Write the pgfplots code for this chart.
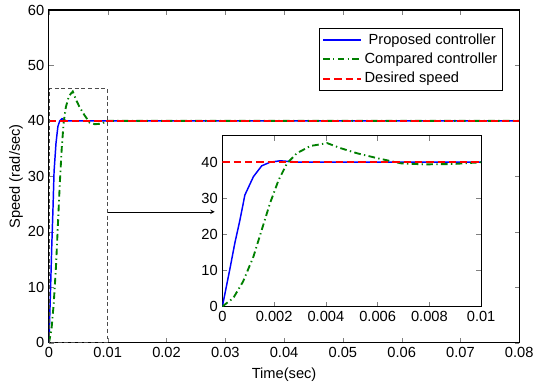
\documentclass[border=0pt]{standalone}
\usepackage{fontspec}
\setmainfont{Liberation Sans}
\usepackage{pgfplots}
\pgfplotsset{compat=1.18}
\definecolor{mgreen}{rgb}{0,0.5,0}
\begin{document}
\begin{tikzpicture}
\useasboundingbox (-36.75pt,-31.5pt) rectangle (364.1pt,257.25pt);
\pgfplotsset{
  every axis/.append style={
    /pgf/number format/assume math mode=true,
    scaled x ticks=false, scaled y ticks=false,
    tick label style={font=\fontsize{11}{13}\selectfont},
    label style={font=\fontsize{11}{13}\selectfont},
    axis line style={line width=0.8pt},
    major tick length=3.5pt,
    tick align=inside,
  },
}
\begin{axis}[name=main, at={(0pt,0pt)}, anchor=south west,
  scale only axis, width=353pt, height=249.75pt,
  xmin=0, xmax=0.08, ymin=0, ymax=60,
  xtick={0,0.01,0.02,0.03,0.04,0.05,0.06,0.07,0.08},
  xticklabels={0,0.01,0.02,0.03,0.04,0.05,0.06,0.07,0.08},
  ytick={0,10,20,30,40,50,60},
  xlabel={Time(sec)}, ylabel={Speed (rad/sec)},
  xlabel style={yshift=-1pt}, ylabel style={yshift=-3pt},
  legend cell align=left,
  legend style={at={(rel axis cs:0.966,0.946)}, anchor=north east,
    font=\fontsize{11}{12}\selectfont, line width=0.8pt,
    inner sep=2pt, row sep=1pt},
  legend image code/.code={\draw[#1] (0cm,0cm) -- (1.0cm,0cm);},
]
\addplot[color=blue, line width=1.1pt] coordinates {
(0,0) (0.000286,10.2) (0.00048,17.5) (0.00068,24) (0.00087,30.9) (0.0012,36) (0.00152,39) (0.00184,40) (0.00223,40.4) (0.0026,40.2) (0.003,40) (0.08,40)};
\addplot[color=mgreen, line width=1.4pt, dash pattern=on 5pt off 2.5pt on 1pt off 2.5pt] coordinates {
(0,0) (0.00042,2.3) (0.0008,6.9) (0.0012,13.8) (0.00152,21.2) (0.00184,28.6) (0.00217,35) (0.0025,39.7) (0.00288,42.5) (0.0034,44.5) (0.00405,45.3) (0.00457,43.9) (0.0052,42.5) (0.006,41.1) (0.0069,39.7) (0.0078,39.4) (0.0089,39.5) (0.01,40) (0.08,40)};
\addplot[color=red, line width=1.4pt, dash pattern=on 5.5pt off 3pt] coordinates {(0,40) (0.08,40)};
\legend{\ Proposed controller, Compared controller, Desired speed}
\draw[dash pattern=on 3pt off 2pt, line width=0.5pt, black!70] (axis cs:0,0) rectangle (axis cs:0.01,45.8);
\draw[-stealth, line width=0.5pt] (axis cs:0.01,23.6) -- (axis cs:0.0282,23.6);
\coordinate (insetSW) at (axis cs:0.0295,6.54);
\end{axis}
\begin{axis}[at={(insetSW)}, anchor=south west,
  scale only axis, width=194.25pt, height=128pt,
  xmin=0, xmax=0.01, ymin=0, ymax=47.3,
  xtick={0,0.002,0.004,0.006,0.008,0.01},
  xticklabels={0,0.002,0.004,0.006,0.008,0.01},
  ytick={0,10,20,30,40},
  axis background/.style={fill=white},
]
\addplot[color=blue, line width=1.1pt] coordinates {
(0,0) (0.000286,10.2) (0.00048,17.5) (0.00068,24) (0.00087,30.9) (0.0012,36) (0.00152,39) (0.00184,40) (0.00223,40.4) (0.0026,40.2) (0.003,40) (0.01,40)};
\addplot[color=mgreen, line width=1.4pt, dash pattern=on 5pt off 2.5pt on 1pt off 2.5pt] coordinates {
(0,0) (0.00042,2.3) (0.0008,6.9) (0.0012,13.8) (0.00152,21.2) (0.00184,28.6) (0.00217,35) (0.0025,39.7) (0.00288,42.5) (0.0034,44.5) (0.00405,45.3) (0.00457,43.9) (0.0052,42.5) (0.006,41.1) (0.0069,39.7) (0.0078,39.4) (0.0089,39.5) (0.01,40)};
\addplot[color=red, line width=1.4pt, dash pattern=on 5.5pt off 3pt] coordinates {(0,40) (0.01,40)};
\end{axis}
\end{tikzpicture}
\end{document}
